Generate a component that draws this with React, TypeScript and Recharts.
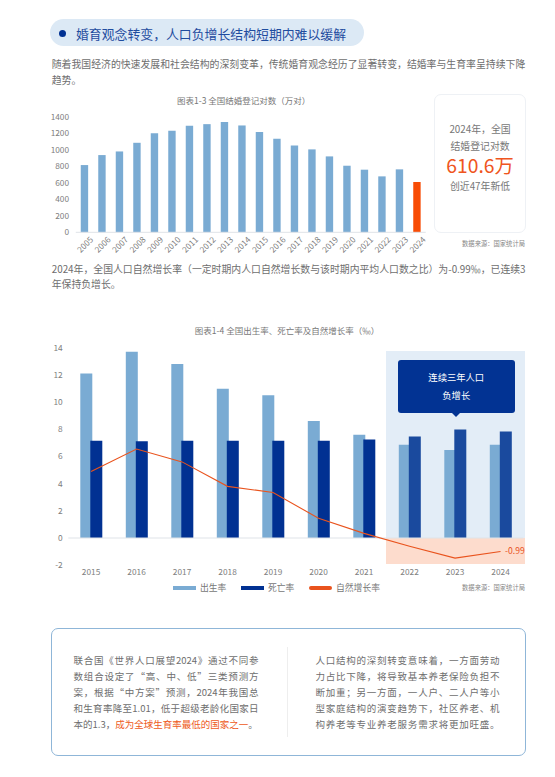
import React from "react";
import { BarChart, Bar, ComposedChart, Line, XAxis, YAxis, Cell, ReferenceLine, Legend } from "recharts";

const FONT = '"Noto Sans CJK SC", "Noto Sans", sans-serif';

// Chart 1-3
const marriageYears = ["2005","2006","2007","2008","2009","2010","2011","2012","2013","2014","2015","2016","2017","2018","2019","2020","2021","2022","2023","2024"];
const marriageValues = [815,936,980,1085,1202,1231,1291,1311,1336,1295,1215,1134,1053,1005,920,807,759,678,763,610];
const marriageTicks = [0,200,400,600,800,1000,1200,1400];

// Chart 1-4
const rateYears = ["2015","2016","2017","2018","2019","2020","2021","2022","2023","2024"];
const birthRate = [12.1,13.7,12.8,10.98,10.5,8.6,7.6,6.86,6.47,6.86];
const deathRate = [7.15,7.12,7.15,7.15,7.15,7.15,7.25,7.47,7.99,7.84];
const naturalRate = [4.9,6.55,5.6,3.8,3.35,1.45,0.34,-0.6,-1.48,-0.99];
const rateTicks = [-2,0,2,4,6,8,10,12,14];

// Text (full-width punctuation written as escapes: \uFF0C comma, \uFF08 \uFF09 brackets, \uFF1A colon, \uFF1B semicolon)
const heading = "婚育观念转变\uFF0C人口负增长结构短期内难以缓解";
const introLines = ["随着我国经济的快速发展和社会结构的深刻变革\uFF0C传统婚育观念经历了显著转变\uFF0C结婚率与生育率呈持续下降","趋势。"];
const middleLines = ["2024年\uFF0C全国人口自然增长率\uFF08一定时期内人口自然增长数与该时期内平均人口数之比\uFF09为-0.99‰\uFF0C已连续3","年保持负增长。"];
const leftBox = ["联合国《世界人口展望2024》通过不同参","数组合设定了“高、中、低”三类预测方","案\uFF0C根据“中方案”预测\uFF0C2024年我国总","和生育率降至1.01\uFF0C低于超级老龄化国家日"];
const rightBox = ["人口结构的深刻转变意味着\uFF0C一方面劳动","力占比下降\uFF0C将导致基本养老保险负担不","断加重\uFF1B另一方面\uFF0C一人户、二人户等小","型家庭结构的演变趋势下\uFF0C社区养老、机","构养老等专业养老服务需求将更加旺盛。"];
const title13 = "图表1-3 全国结婚登记对数\uFF08万对\uFF09";
const title14 = "图表1-4 全国出生率、死亡率及自然增长率\uFF08‰\uFF09";
const sourceNote = "数据来源\uFF1A国家统计局";

const BLUE = "#7aabd3";
const NAVY = "#013192";
const NAVY_SHADED = "#1a4a9e";
const ORANGE = "#e9531d";
const GREY = "#808080";
const TEXT = "#6e6e6e";

const marriageData = marriageYears.map((year, i) => ({ year, value: marriageValues[i] }));
const rateData = rateYears.map((year, i) => ({ year, birth: birthRate[i], death: deathRate[i], natural: naturalRate[i] }));

const abs = (left: number, top: number, extra: React.CSSProperties = {}): React.CSSProperties => ({ position: "absolute", left, top, ...extra });

function TextLine({ x, y, text, size = 9.87, color = TEXT, width, align }: { x: number; y: number; text: React.ReactNode; size?: number; color?: string; width?: number; align?: any }) {
  return (
    <div lang="zh-CN" style={{ position: "absolute", left: x, top: y, width, transform: "translateY(-50%)", fontSize: size, color, lineHeight: 1, whiteSpace: "nowrap", textAlign: align, textAlignLast: align }}>
      {text}
    </div>
  );
}

function RateLegend({ payload }: any) {
  const starts = [173, 241, 309];
  return (
    <div style={{ position: "relative", width: 555, height: 14 }}>
      {(payload || []).map((e: any, i: number) => (
        <div key={e.value} style={{ position: "absolute", left: starts[i], top: 0, height: 14, display: "flex", alignItems: "center" }}>
          <span style={{ display: "inline-block", width: 23, height: 4, background: e.color, borderRadius: i === 2 ? 2 : 0, marginRight: 4 }} />
          <span style={{ fontSize: 8.8, color: "#777" }}>{e.value}</span>
        </div>
      ))}
    </div>
  );
}

function LastLabel({ x, y, index, value }: any) {
  if (index !== rateYears.length - 1) return null;
  return <text x={x + 4.5} y={y + 3} fontSize={8.6} fill={ORANGE} fontFamily={FONT}>{value}</text>;
}

function SlantTick({ x, y, payload }: any) {
  const cy = y + 9.5;
  return (
    <text x={x} y={cy} transform={`rotate(-45 ${x} ${cy})`} textAnchor="middle" dominantBaseline="central" fontSize={8.3} fill={GREY} fontFamily={FONT}>
      {payload.value}
    </text>
  );
}

export default function App() {
  return (
    <div style={{ position: "absolute", left: 0, top: 0, width: 555, height: 777, background: "#fff", fontFamily: FONT, overflow: "hidden" }}>
      {/* Heading */}
      <div style={abs(49.5, 19, { width: 314.5, height: 27, borderRadius: 14, background: "#dce9f5" })} />
      <div style={abs(59, 29.6, { width: 7.4, height: 7.4, borderRadius: 4, background: "#013192" })} />
      <TextLine x={76} y={34} text={heading} size={12.86} color="#1f4c9f" />

      {introLines.map((t, i) => <TextLine key={i} x={51.7} y={65 + i * 15.5} text={t} width={i === 0 ? 473.6 : undefined} align={i === 0 ? "justify" : undefined} />)}

      {/* Chart 1-3 */}
      <TextLine x={100} y={100} width={287.4} align="center" text={title13} size={8.5} color="#777" />
      <div style={abs(0, 0)}>
        <BarChart width={555} height={262} data={marriageData} margin={{ top: 116.8, right: 129.25, bottom: 9.7, left: 30 }} barCategoryGap={0}>
          <XAxis dataKey="year" interval={0} height={20} tickLine={false} tickSize={0} axisLine={{ stroke: "#dfe3e8" }} tick={<SlantTick />} />
          <YAxis width={45.75} domain={[0, 1400]} ticks={marriageTicks} axisLine={false} tickLine={false} tickSize={0} tick={{ fontSize: 8.3, fill: GREY, fontFamily: FONT }} tickMargin={6.7} />
          <Bar dataKey="value" barSize={7.4} fill={BLUE} isAnimationActive={false}>
            {marriageData.map((d, i) => <Cell key={d.year} fill={i === marriageData.length - 1 ? "#f84c05" : BLUE} />)}
          </Bar>
        </BarChart>
      </div>

      {/* Side card */}
      <div style={abs(434.3, 94, { width: 89.5, height: 136.7, border: "1px solid #eef1f5", borderRadius: 7, background: "#fff" })} />
      <TextLine x={434.3} y={130} width={91.5} align="center" text={"2024年\uFF0C全国"} size={9.87} color="#777" />
      <TextLine x={434.3} y={146.7} width={91.5} align="center" text="结婚登记对数" size={9.87} color="#777" />
      <TextLine x={434.3} y={166} width={91.5} align="center" text="610.6万" size={19.3} color="#ef5520" />
      <TextLine x={434.3} y={186.7} width={91.5} align="center" text="创近47年新低" size={9.87} color="#777" />
      <TextLine x={425} y={244.3} width={100} align="right" text={sourceNote} size={6.3} color="#888" />

      {middleLines.map((t, i) => <TextLine key={i} x={51.7} y={269.5 + i * 15.5} text={t} width={i === 0 ? 473.6 : undefined} align={i === 0 ? "justify" : undefined} />)}

      {/* Chart 1-4 */}
      <TextLine x={100} y={330} width={374} align="center" text={title14} size={8.5} color="#777" />
      <div style={abs(386, 351, { width: 139, height: 187, background: "#e3edf7" })} />
      <div style={abs(386, 538, { width: 139, height: 26, background: "#fddccd" })} />
      <div style={abs(0, 300)}>
        <ComposedChart width={555} height={300} data={rateData} margin={{ top: 47.7, right: 31.7, bottom: 14.8, left: 30 }} barSize={12} barGap={-2} barCategoryGap={0}>
          <XAxis dataKey="year" interval={0} height={20} axisLine={false} tickLine={false} tickSize={0} tick={{ fontSize: 8.3, fill: GREY, fontFamily: FONT }} tickMargin={4} />
          <YAxis width={38.3} domain={[-2, 14]} ticks={rateTicks} axisLine={false} tickLine={false} tickSize={0} tick={{ fontSize: 8.4, fill: GREY, fontFamily: FONT }} tickMargin={5.6} />
          <Bar dataKey="birth" name="出生率" fill={BLUE} isAnimationActive={false} />
          <Bar dataKey="death" name="死亡率" fill={NAVY} isAnimationActive={false}>
            {rateData.map((d, i) => <Cell key={d.year} fill={i >= 7 ? NAVY_SHADED : NAVY} />)}
          </Bar>
          <ReferenceLine y={0} stroke="#dfe3e8" />
          <Line dataKey="natural" name="自然增长率" type="linear" stroke={ORANGE} strokeWidth={1.1} dot={false} isAnimationActive={false} label={<LastLabel />} />
          <Legend layout="horizontal" verticalAlign="middle" content={<RateLegend />} wrapperStyle={{ left: 0, top: 280.5, width: 555, height: 14 }} />
        </ComposedChart>
      </div>

      {/* Callout */}
      <div style={abs(397.5, 359.5, { width: 117.5, height: 53, background: "#023393", borderRadius: 3 })} />
      <div style={abs(451, 412, { width: 0, height: 0, borderLeft: "5px solid transparent", borderRight: "5px solid transparent", borderTop: "5px solid #023393" })} />
      <TextLine x={397.5} y={378} width={117.5} align="center" text="连续三年人口" size={9.3} color="#fff" />
      <TextLine x={397.5} y={396} width={117.5} align="center" text="负增长" size={9.3} color="#fff" />
      <TextLine x={425} y={588.3} width={100} align="right" text={sourceNote} size={6.3} color="#888" />

      {/* Bottom box */}
      <div style={abs(50.5, 628, { width: 473, height: 125.5, border: "1px solid #8fb6d8", borderRadius: 7 })} />
      <div style={abs(286.5, 647, { width: 1, height: 90, background: "#eeeeee" })} />
      {leftBox.map((t, i) => <TextLine key={i} x={73.5} y={660.5 + i * 16} width={185} align="justify" size={9.5} text={t} />)}
      <TextLine x={73.5} y={724.5} size={9.5} text={<span>{"本的1.3\uFF0C"}<span style={{ color: "#ee5a22" }}>成为全球生育率最低的国家之一</span>。</span>} />
      {rightBox.map((t, i) => <TextLine key={i} x={315.5} y={660.5 + i * 16} width={184} align="justify" size={9.5} text={t} />)}
    </div>
  );
}
